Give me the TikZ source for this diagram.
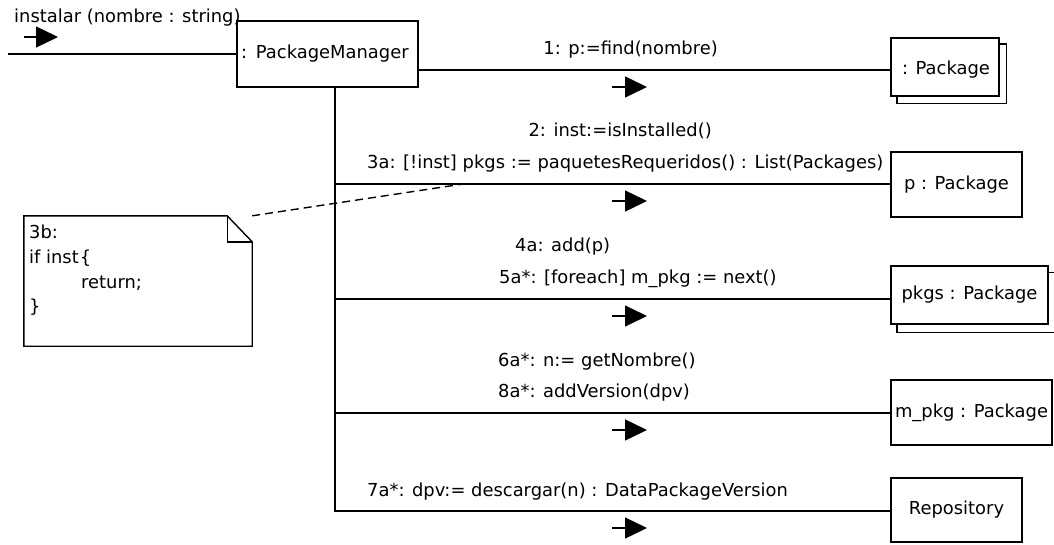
\documentclass[tikz,border=0pt]{standalone}
\usepackage{fontspec}
\setmainfont{DejaVu Sans}
\usetikzlibrary{arrows.meta,backgrounds}
\newcommand\umlfont{\fontsize{17.9}{21}\selectfont}
\tikzset{
  obj/.style={draw, line width=1.4pt, fill=white, inner sep=0pt, font=\umlfont},
  shadowbox/.style={draw, line width=1.4pt, fill=white},
  msg/.style={line width=1.3pt},
  lbl/.style={inner sep=0pt, font=\umlfont},
  dir/.style={line width=1.3pt, -{Triangle[length=22pt,width=21pt]}},
  notelink/.style={line width=1.4pt, dash pattern=on 8pt off 5pt},
}
\begin{document}
\begin{tikzpicture}[x=1pt,y=-1pt]
  \useasboundingbox (0,0) rectangle (1054,544);

  % objects
  \node[obj, text width=173pt, inner xsep=4pt, minimum height=66pt, align=left]
       (pm) at (327.5,54) {: PackageManager};
  \node[obj, minimum width=108pt, minimum height=58pt] (pkg1) at (945,67) {};
  \node[lbl] (pkg1t) at (946,70) {: Package};
  \node[obj, minimum width=131pt, minimum height=65pt] (p) at (956.5,184.5) {p : Package};
  \node[obj, minimum width=157pt, minimum height=58pt] (pkgs) at (969.5,295) {pkgs : Package};
  \node[obj, minimum width=161pt, minimum height=65pt] (mpkg) at (971.5,412.5) {m\_pkg : Package};
  \node[obj, minimum width=131pt, minimum height=64pt] (repo) at (956.5,510) {Repository};

  % multi-object shadows
  \begin{scope}[on background layer]
    \fill[white] (0,0) rectangle (1054,544);
    \draw[shadowbox] ([shift={(6.5,6.5)}]pkg1.north west) rectangle ([shift={(6.5,6.5)}]pkg1.south east);
    \draw[shadowbox] ([shift={(6.5,7)}]pkgs.north west) rectangle ([shift={(6,7.5)}]pkgs.south east);
  \end{scope}

  % message lines
  \coordinate (src) at (8,54);
  \coordinate (trunk) at (335,0);
  \coordinate (y1) at (0,70);
  \coordinate (y2) at (0,184);
  \coordinate (y3) at (0,299);
  \coordinate (y4) at (0,413);
  \coordinate (y5) at (0,511);
  \draw[msg] (src) -- (pm.west);
  \draw[msg] (pm.east |- y1) -- (pkg1.west |- y1);
  \draw[msg] (trunk |- pm.south) -- (trunk |- y5) -- (repo.west |- y5);
  \draw[msg] (trunk |- y2) -- (p.west |- y2);
  \draw[msg] (trunk |- y3) -- (pkgs.west |- y3);
  \draw[msg] (trunk |- y4) -- (mpkg.west |- y4);

  % direction markers
  \draw[dir] (24,37) -- (58,37);
  \draw[dir] (612,87) -- (647,87);
  \draw[dir] (612,201) -- (647,201);
  \draw[dir] (612,316) -- (647,316);
  \draw[dir] (612,430) -- (647,430);
  \draw[dir] (612,528) -- (647,528);

  % message labels
  \node[lbl, anchor=base west] (l0) at (14,22) {instalar (nombre : string)};
  \node[lbl, anchor=base east] (l1) at (718,54) {1: p:=find(nombre)};
  \node[lbl, anchor=base east] (l2) at (712,136) {2: inst:=isInstalled()};
  \node[lbl, anchor=base west] (l3) at (367,168) {3a: [!inst] pkgs := paquetesRequeridos() : List(Packages)};
  \node[lbl, anchor=base west] (l4) at (515,251) {4a: add(p)};
  \node[lbl, anchor=base west] (l5) at (499,283) {5a*: [foreach] m\_pkg := next()};
  \node[lbl, anchor=base west] (l6) at (498,366) {6a*: n:= getNombre()};
  \node[lbl, anchor=base west] (l8) at (498,397) {8a*: addVersion(dpv)};
  \node[lbl, anchor=base west] (l7) at (367,496) {7a*: dpv:= descargar(n) : DataPackageVersion};

  % note 3b
  \node[minimum width=228pt, minimum height=130pt, inner sep=0pt] (note) at (138,281) {};
  \draw[line width=1.4pt, fill=white] (note.north west) -- ([xshift=-25pt]note.north east)
      -- ([yshift=-26pt]note.north east) -- (note.south east) -- (note.south west) -- cycle;
  \draw[line width=1.4pt] ([xshift=-25pt]note.north east) |- ([yshift=-26pt]note.north east);
  \node[lbl, anchor=base west] (n1) at (29,238) {3b:};
  \node[lbl, anchor=base west] (n2) at (29,263) {if inst\hspace{1pt}\{};
  \node[lbl, anchor=base west] (n3) at (81,288) {return;};
  \node[lbl, anchor=base west] (n4) at (29,312) {\}};
  \coordinate (hook) at (463,184);
  \draw[notelink] (note.north east) -- (hook);
\end{tikzpicture}
\end{document}
